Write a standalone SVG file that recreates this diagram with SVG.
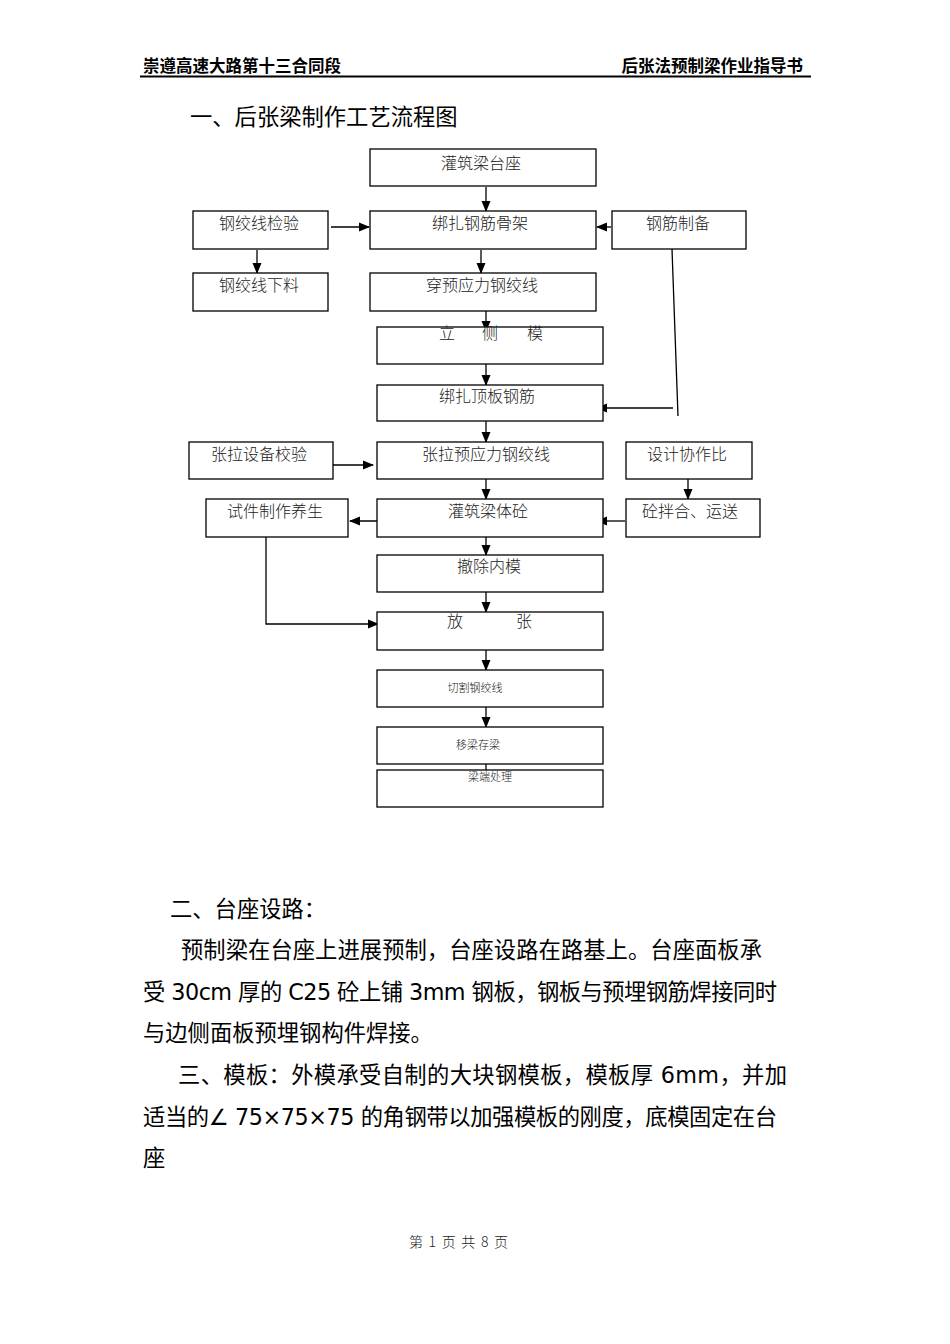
<svg xmlns="http://www.w3.org/2000/svg" width="950" height="1344" viewBox="0 0 950 1344">
<defs>
<marker id="ah" markerWidth="11" markerHeight="11" refX="10" refY="5.5" orient="auto" markerUnits="userSpaceOnUse">
<path d="M0,1 L11,5.5 L0,10 Z" fill="#000"/>
</marker>
<style>
.box{fill:#fff;stroke:#000;stroke-width:1.3}
.bt{font-family:"Noto Sans CJK SC","Liberation Serif",serif;font-size:16px;font-weight:300;fill:#222;text-anchor:middle}
.st{font-family:"Noto Sans CJK SC","Liberation Serif",serif;font-size:11px;font-weight:300;fill:#222;text-anchor:middle}
.c{fill:none;stroke:#000;stroke-width:1.3}
.ca{fill:none;stroke:#000;stroke-width:1.3;marker-end:url(#ah)}
.p{font-family:"DejaVu Sans","Noto Sans CJK SC",sans-serif;font-size:22.3px;fill:#000}
.h{font-family:"Noto Sans CJK SC",sans-serif;font-size:16.5px;font-weight:bold;fill:#000}
</style>
</defs>
<rect width="950" height="1344" fill="#fff"/>
<g id="header">
<text class="h" x="143" y="72">崇遵高速大路第十三合同段</text>
<text class="h" x="803" y="72" text-anchor="end">后张法预制梁作业指导书</text>
<line x1="140" y1="76.5" x2="811" y2="76.5" stroke="#000" stroke-width="2"/>
</g>
<text class="p" x="190" y="125">一、后张梁制作工艺流程图</text>
<g id="connectors">
<line class="ca" x1="486" y1="187" x2="486" y2="211"/>
<line class="ca" x1="331" y1="227" x2="369" y2="227"/>
<line class="ca" x1="611" y1="227" x2="597" y2="227"/>
<line class="ca" x1="257" y1="250" x2="257" y2="273"/>
<line class="ca" x1="481" y1="250" x2="481" y2="273"/>
<line class="ca" x1="486" y1="311" x2="486" y2="331"/>
<line class="c" x1="672" y1="249" x2="678" y2="416"/>
<line class="ca" x1="673" y1="408" x2="597" y2="408"/>
<line class="ca" x1="486" y1="364" x2="486" y2="385"/>
<line class="ca" x1="486" y1="421" x2="486" y2="442"/>
<line class="ca" x1="331" y1="465" x2="373" y2="465"/>
<line class="ca" x1="486" y1="479" x2="486" y2="499"/>
<line class="ca" x1="688" y1="479" x2="688" y2="499"/>
<line class="ca" x1="625" y1="521" x2="597" y2="521"/>
<line class="ca" x1="385" y1="521" x2="350" y2="521"/>
<polyline class="ca" points="266,537 266,624 378,624"/>
<line class="ca" x1="486" y1="537" x2="486" y2="555"/>
<line class="ca" x1="486" y1="592" x2="486" y2="612"/>
<line class="ca" x1="486" y1="648" x2="486" y2="670"/>
<line class="ca" x1="486" y1="707" x2="486" y2="727"/>
<line class="c" x1="486" y1="759" x2="486" y2="770"/>
</g>
<g id="n1"><rect class="box" x="370" y="149" width="226" height="37"/><text class="bt" x="481" y="169">灌筑梁台座</text></g>
<g id="n2"><rect class="box" x="193" y="211" width="135" height="38"/><text class="bt" x="259" y="229">钢绞线检验</text></g>
<g id="n3"><rect class="box" x="370" y="211" width="226" height="38"/><text class="bt" x="480" y="229">绑扎钢筋骨架</text></g>
<g id="n4"><rect class="box" x="612" y="211" width="134" height="38"/><text class="bt" x="678" y="229">钢筋制备</text></g>
<g id="n5"><rect class="box" x="193" y="273" width="135" height="38"/><text class="bt" x="259" y="291">钢绞线下料</text></g>
<g id="n6"><rect class="box" x="370" y="273" width="226" height="38"/><text class="bt" x="482" y="291">穿预应力钢绞线</text></g>
<g id="n7"><rect class="box" x="377" y="327" width="226" height="37"/><text class="bt" x="447" y="339">立</text><text class="bt" x="490" y="339">侧</text><text class="bt" x="535" y="339">模</text></g>
<g id="n8"><rect class="box" x="377" y="385" width="226" height="36"/><text class="bt" x="487" y="402">绑扎顶板钢筋</text></g>
<g id="n9"><rect class="box" x="189" y="442" width="144" height="37"/><text class="bt" x="259" y="460">张拉设备校验</text></g>
<g id="n10"><rect class="box" x="377" y="442" width="226" height="37"/><text class="bt" x="486" y="460">张拉预应力钢绞线</text></g>
<g id="n11"><rect class="box" x="626" y="442" width="126" height="37"/><text class="bt" x="687" y="460">设计协作比</text></g>
<g id="n12"><rect class="box" x="206" y="499" width="142" height="38"/><text class="bt" x="275" y="517">试件制作养生</text></g>
<g id="n13"><rect class="box" x="377" y="499" width="226" height="38"/><text class="bt" x="488" y="517">灌筑梁体砼</text></g>
<g id="n14"><rect class="box" x="626" y="499" width="134" height="38"/><text class="bt" x="690" y="517">砼拌合、运送</text></g>
<g id="n15"><rect class="box" x="377" y="555" width="226" height="37"/><text class="bt" x="489" y="572">撤除内模</text></g>
<g id="n16"><rect class="box" x="377" y="612" width="226" height="38"/><text class="bt" x="455" y="627">放</text><text class="bt" x="524" y="627">张</text></g>
<g id="n17"><rect class="box" x="377" y="670" width="226" height="37"/><text class="st" x="475" y="692">切割钢绞线</text></g>
<g id="n18"><rect class="box" x="377" y="727" width="226" height="37"/><text class="st" x="478" y="749">移梁存梁</text></g>
<g id="n19"><rect class="box" x="377" y="770" width="226" height="37"/><text class="st" x="490" y="781">梁端处理</text></g>
<g id="body">
<text class="p" x="170" y="917">二、台座设路：</text>
<text class="p" x="181" y="958" textLength="581" lengthAdjust="spacing">预制梁在台座上进展预制，台座设路在路基上。台座面板承</text>
<text class="p" x="143" y="1000" textLength="634" lengthAdjust="spacing">受 30cm 厚的 C25 砼上铺 3mm 钢板，钢板与预埋钢筋焊接同时</text>
<text class="p" x="143" y="1041">与边侧面板预埋钢构件焊接。</text>
<text class="p" x="178" y="1083" textLength="609" lengthAdjust="spacing">三、模板：外模承受自制的大块钢模板，模板厚 6mm，并加</text>
<text class="p" x="143" y="1125" textLength="634" lengthAdjust="spacing">适当的∠ 75×75×75 的角钢带以加强模板的刚度，底模固定在台</text>
<text class="p" x="143" y="1166">座</text>
</g>
<text x="409" y="1247" textLength="99" lengthAdjust="spacing" font-family="Noto Sans CJK SC, Liberation Serif, serif" font-size="14" font-weight="300" fill="#222">第 1 页 共 8 页</text>
</svg>
